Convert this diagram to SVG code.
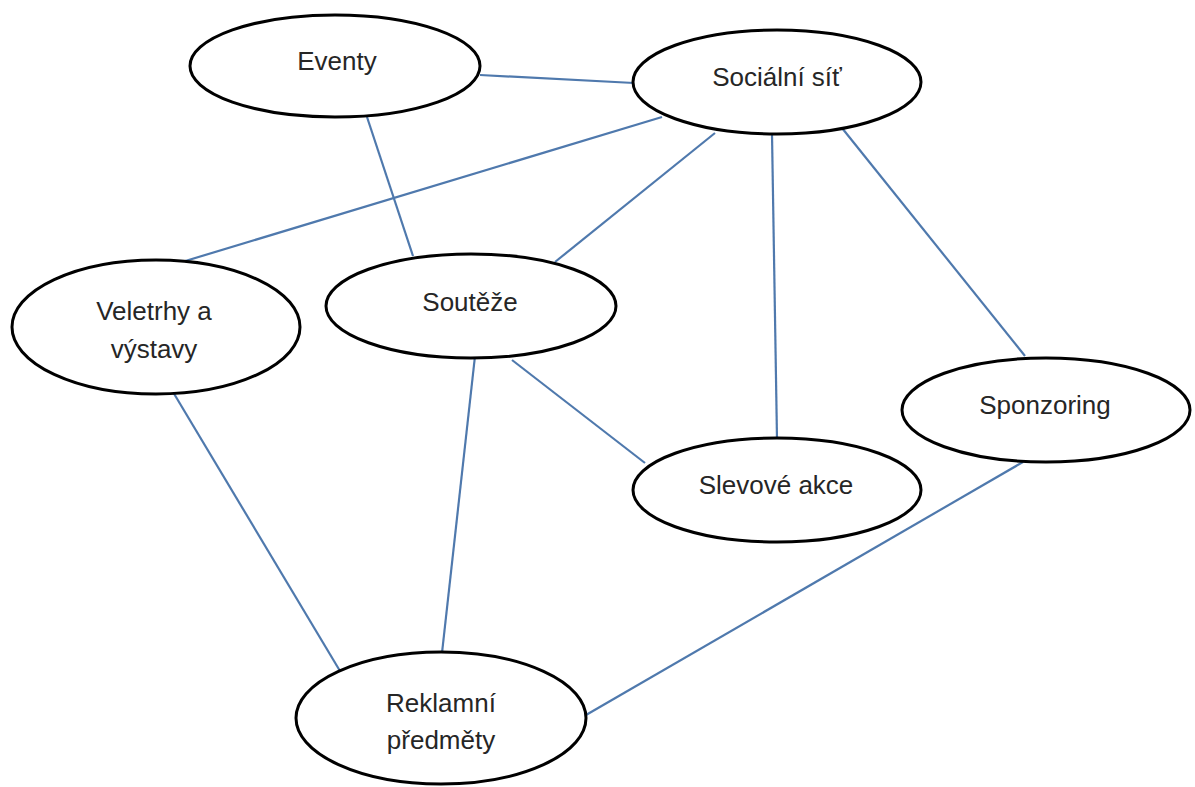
<svg xmlns="http://www.w3.org/2000/svg" width="1195" height="787" viewBox="0 0 1195 787">
<style>
.node ellipse{fill:#fff;stroke:#000;stroke-width:3}
.node text{font-family:"Liberation Sans",Arial,sans-serif;font-size:26px;fill:#262626;text-anchor:middle}
#connectors line{stroke:#4f79ad;stroke-width:2.2}
</style>
<rect width="1195" height="787" fill="#fff"/>
<g id="connectors">
<line x1="480" y1="75" x2="634" y2="83"/>
<line x1="367" y1="117" x2="413" y2="256"/>
<line x1="662" y1="117" x2="182" y2="262"/>
<line x1="715" y1="133" x2="555" y2="262"/>
<line x1="772" y1="134" x2="777" y2="439"/>
<line x1="842" y1="128" x2="1025" y2="356"/>
<line x1="173" y1="392" x2="340" y2="671"/>
<line x1="475" y1="356" x2="442" y2="653"/>
<line x1="512" y1="360" x2="645" y2="463"/>
<line x1="1023" y1="462" x2="586" y2="715"/>
</g>
<g id="eventy" class="node"><ellipse cx="335" cy="66" rx="145" ry="51"/><text x="337" y="70">Eventy</text></g>
<g id="socialni-sit" class="node"><ellipse cx="777" cy="82" rx="144" ry="52"/><text x="777" y="86">Sociální síť</text></g>
<g id="veletrhy" class="node"><ellipse cx="156" cy="327" rx="144" ry="67"/><text x="154" y="320">Veletrhy a</text><text x="154" y="358">výstavy</text></g>
<g id="souteze" class="node"><ellipse cx="471" cy="306" rx="145" ry="52"/><text x="470" y="311">Soutěže</text></g>
<g id="sponzoring" class="node"><ellipse cx="1046" cy="410" rx="144" ry="52"/><text x="1045" y="414">Sponzoring</text></g>
<g id="slevove-akce" class="node"><ellipse cx="777" cy="490" rx="144" ry="52"/><text x="776" y="494">Slevové akce</text></g>
<g id="reklamni" class="node"><ellipse cx="441" cy="718" rx="145" ry="66"/><text x="441" y="712">Reklamní</text><text x="441" y="749">předměty</text></g>
</svg>
